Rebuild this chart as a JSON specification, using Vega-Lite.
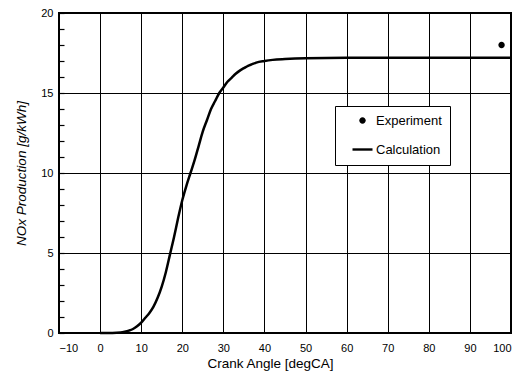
{
  "$schema": "https://vega.github.io/schema/vega-lite/v6.json",
  "width": 452,
  "height": 320,
  "autosize": {"type": "none"},
  "padding": {"left": 59, "top": 13, "right": 10, "bottom": 40},
  "background": "white",
  "config": {
    "view": {"stroke": "black", "strokeWidth": 2},
    "font": "Liberation Sans"
  },
  "layer": [
    {
      "data": {
        "values": [
          {"angle": 0, "nox": 0},
          {"angle": 3, "nox": 0},
          {"angle": 5, "nox": 0.03},
          {"angle": 6, "nox": 0.08},
          {"angle": 7, "nox": 0.15},
          {"angle": 8, "nox": 0.25},
          {"angle": 9, "nox": 0.42},
          {"angle": 10, "nox": 0.65},
          {"angle": 11, "nox": 0.95},
          {"angle": 12, "nox": 1.25},
          {"angle": 13, "nox": 1.65},
          {"angle": 14, "nox": 2.2},
          {"angle": 15, "nox": 2.9},
          {"angle": 16, "nox": 3.8},
          {"angle": 17, "nox": 4.9},
          {"angle": 18, "nox": 6.0},
          {"angle": 19, "nox": 7.2},
          {"angle": 20, "nox": 8.3},
          {"angle": 21, "nox": 9.2},
          {"angle": 22, "nox": 10.0},
          {"angle": 23, "nox": 10.8},
          {"angle": 24, "nox": 11.7},
          {"angle": 25, "nox": 12.6},
          {"angle": 26, "nox": 13.3},
          {"angle": 27, "nox": 14.0},
          {"angle": 28, "nox": 14.5},
          {"angle": 29, "nox": 15.0},
          {"angle": 30, "nox": 15.35},
          {"angle": 31, "nox": 15.7},
          {"angle": 32, "nox": 15.95},
          {"angle": 33, "nox": 16.2},
          {"angle": 34, "nox": 16.4},
          {"angle": 35, "nox": 16.55},
          {"angle": 36, "nox": 16.7},
          {"angle": 37, "nox": 16.8},
          {"angle": 38, "nox": 16.9},
          {"angle": 40, "nox": 17.0},
          {"angle": 42, "nox": 17.07},
          {"angle": 45, "nox": 17.12},
          {"angle": 50, "nox": 17.17},
          {"angle": 60, "nox": 17.2},
          {"angle": 70, "nox": 17.2},
          {"angle": 80, "nox": 17.2},
          {"angle": 90, "nox": 17.2},
          {"angle": 100, "nox": 17.2}
        ]
      },
      "mark": {"type": "line", "color": "black", "strokeWidth": 2.5, "interpolate": "monotone"},
      "encoding": {
        "x": {
          "field": "angle", "type": "quantitative",
          "scale": {"domain": [-10, 100], "nice": false, "zero": false},
          "axis": {
            "title": "Crank Angle [degCA]",
            "values": [-10, 0, 10, 20, 30, 40, 50, 60, 70, 80, 90, 100],
            "tickCount": 20,
            "format": "d",
            "grid": true, "gridColor": "black", "gridWidth": 1, "gridOpacity": 1,
            "ticks": false, "domain": false,
            "labelFontSize": 11, "labelPadding": 9, "labelColor": "black",
            "titleFontSize": 13.5, "titleFontWeight": "normal", "titleColor": "black",
            "titlePadding": 3, "titleX": 211
          }
        },
        "y": {
          "field": "nox", "type": "quantitative",
          "scale": {"domain": [0, 20], "nice": false},
          "axis": {
            "orient": "left",
            "title": "NOx Production [g/kWh]",
            "values": [0, 1, 2, 3, 4, 5, 6, 7, 8, 9, 10, 11, 12, 13, 14, 15, 16, 17, 18, 19, 20],
            "tickCount": 30,
            "format": "d",
            "labelExpr": "datum.value % 5 === 0 ? datum.label : ''",
            "labelOverlap": false,
            "grid": true, "gridColor": "black", "gridWidth": 1,
            "gridOpacity": {"condition": {"test": "datum.value % 5 === 0", "value": 1}, "value": 0},
            "ticks": true, "tickSize": -5, "tickColor": "black", "tickWidth": 1.2,
            "domain": false,
            "labelFontSize": 11, "labelPadding": 11, "labelColor": "black",
            "titleFontSize": 13.5, "titleFontWeight": "normal", "titleFontStyle": "italic",
            "titleColor": "black", "titlePadding": 12
          }
        }
      }
    },
    {
      "data": {"values": [{"angle": 97.7, "nox": 18.0, "series": "Experiment"}]},
      "mark": {"type": "point", "filled": true, "color": "black", "opacity": 1, "size": 64},
      "encoding": {
        "x": {"field": "angle", "type": "quantitative"},
        "y": {"field": "nox", "type": "quantitative"},
        "shape": {
          "field": "series", "type": "nominal",
          "scale": {
            "domain": ["Experiment", "Calculation"],
            "range": ["M-0.8,0A0.8,0.8 0 1,0 0.8,0A0.8,0.8 0 1,0 -0.8,0Z", "M-2.5,-0.3L2.5,-0.3L2.5,0.3L-2.5,0.3Z"]
          },
          "legend": {
            "title": null,
            "orient": "none",
            "legendX": 276,
            "legendY": 93,
            "fillColor": "white",
            "strokeColor": "black",
            "padding": 8,
            "rowPadding": 15,
            "symbolSize": 64,
            "symbolOffset": 13,
            "labelOffset": 7,
            "labelFontSize": 13,
            "labelColor": "black",
            "labelFont": "Liberation Sans",
            "symbolFillColor": "black",
            "symbolStrokeColor": "black",
            "symbolStrokeWidth": 0,
            "symbolOpacity": 1,
            "encode": {
              "legend": {"update": {"strokeWidth": {"value": 2}}}
            }
          }
        }
      }
    }
  ]
}
